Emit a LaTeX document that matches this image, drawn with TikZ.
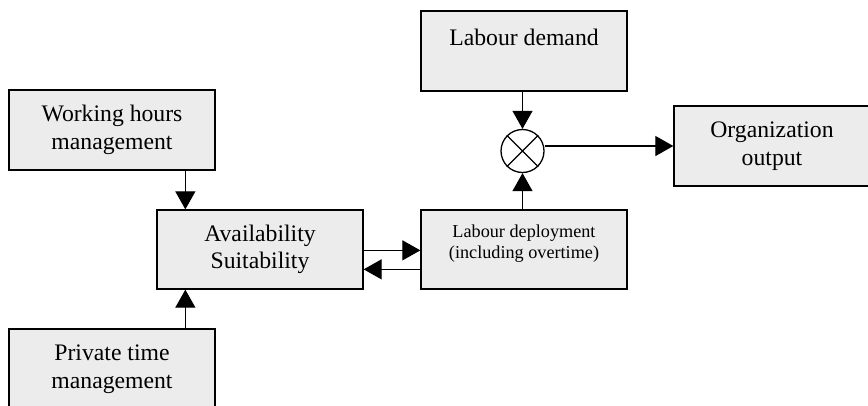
\documentclass[tikz,border=0pt]{standalone}
\usepackage{fontspec}
\setmainfont{Liberation Serif}
\usetikzlibrary{arrows.meta,positioning}

\begin{document}
\begin{tikzpicture}
  [x=1pt, y=1pt,
   box/.style={draw, fill=gray!15, line width=1.3pt, minimum width=206pt,
     minimum height=80pt, inner sep=0pt, align=center,
     font=\fontsize{23.7}{27.5}\selectfont},
   smallbox/.style={box, font=\fontsize{18.2}{21}\selectfont},
   mult/.style={draw, circle, line width=1.3pt, minimum size=43pt, inner sep=0pt},
   arr/.style={line width=1.2pt, -{Triangle[length=18pt, width=20pt]}}]
  \useasboundingbox (0,0) rectangle (868,-405);
  % left column
  \node[box] (work)   at (112,-130)   {Working hours\\management};
  \node[box, minimum height=79pt] (avail) at (260,-249.5) {Availability\\Suitability};
  \node[box] (priv)   at (112,-369)   {Private time\\management};
  % right part
  \node[box] (demand) at (524,-51)    {Labour demand\\\mbox{}};
  \node[smallbox, minimum height=79pt] (deploy) at (524,-249.5)
    {Labour deployment\\(including overtime)\\[-6pt]\mbox{}};
  \node[mult] (prod) at (522.5,-151) {};
  \draw[line width=1.3pt] (prod.north west) -- (prod.south east)
                          (prod.north east) -- (prod.south west);
  \node[box, minimum width=196pt] (org) at (772,-146) {Organization\\output};
  % connectors
  \draw[arr] ([xshift=29pt]avail.north west |- work.south) -- ([xshift=29pt]avail.north west);
  \draw[arr] ([xshift=29pt]avail.south west |- priv.north) -- ([xshift=29pt]avail.south west);
  \draw[arr] ([yshift=-41pt]avail.north east) -- ([yshift=-41pt]deploy.north west);
  \draw[arr] ([yshift=-60pt]deploy.north west) -- ([yshift=-60pt]avail.north east);
  \draw[arr] (demand.south -| prod.north) -- (prod.north);
  \draw[arr] (deploy.north -| prod.south) -- (prod.south);
  \draw[arr] (prod.east |- org.west) -- (org.west);
\end{tikzpicture}
\end{document}
